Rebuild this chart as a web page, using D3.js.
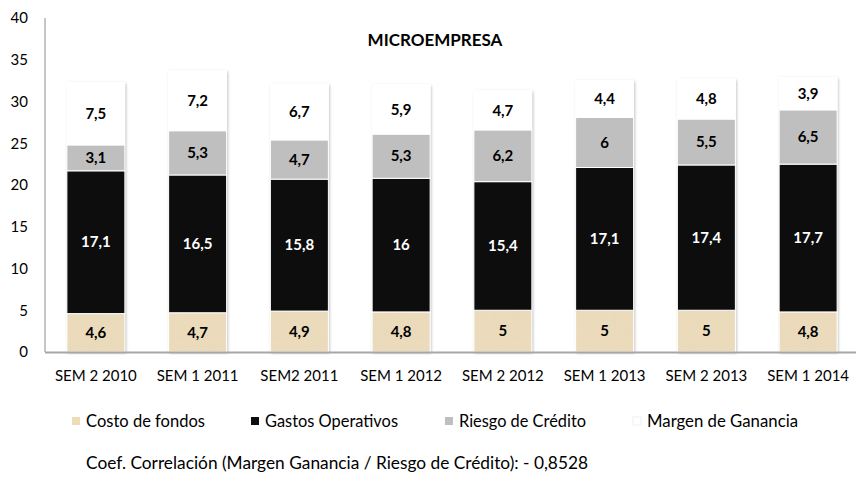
<!DOCTYPE html>
<html>
<head>
<meta charset="utf-8">
<script src="https://cdn.jsdelivr.net/npm/d3@7"></script>
<style>
  body { margin: 0; background: #fff; }
  svg text { font-family: Lato, "Open Sans", sans-serif; }
</style>
</head>
<body>
<div id="chart"></div>
<script>
const periodos = ["SEM 2 2010", "SEM 1 2011", "SEM2 2011", "SEM 1 2012", "SEM 2 2012", "SEM 1 2013", "SEM 2 2013", "SEM 1 2014"];
const costoFondos = [4.6, 4.7, 4.9, 4.8, 5, 5, 5, 4.8];
const gastosOperativos = [17.1, 16.5, 15.8, 16, 15.4, 17.1, 17.4, 17.7];
const riesgoCredito = [3.1, 5.3, 4.7, 5.3, 6.2, 6, 5.5, 6.5];
const margenGanancia = [7.5, 7.2, 6.7, 5.9, 4.7, 4.4, 4.8, 3.9];
const yTicks = [0, 5, 10, 15, 20, 25, 30, 35, 40];
const serieNombres = ["Costo de fondos", "Gastos Operativos", "Riesgo de Crédito", "Margen de Ganancia"];

const W = 856, H = 482;
const svg = d3.select("#chart").append("svg").attr("width", W).attr("height", H);
const defs = svg.append("defs");

// textura tipo papel para costo de fondos
const noise = defs.append("filter").attr("id", "papel").attr("x", 0).attr("y", 0).attr("width", 1).attr("height", 1);
noise.append("feTurbulence").attr("type", "fractalNoise").attr("baseFrequency", 0.09).attr("numOctaves", 3).attr("seed", 4).attr("result", "n");
noise.append("feColorMatrix").attr("in", "n").attr("type", "matrix")
  .attr("values", "0 0 0 0 0.78  0 0 0 0 0.68  0 0 0 0 0.50  0 0 0 -1.1 0.75");
const pat = defs.append("pattern").attr("id", "tan").attr("patternUnits", "userSpaceOnUse").attr("width", 120).attr("height", 120);
pat.append("rect").attr("width", 120).attr("height", 120).attr("fill", "#ebdbbb");
pat.append("rect").attr("width", 120).attr("height", 120).attr("filter", "url(#papel)").attr("opacity", 0.6);

const sombra = defs.append("filter").attr("id", "sombra").attr("x", "-20%").attr("y", "-10%").attr("width", "140%").attr("height", "120%");
sombra.append("feDropShadow").attr("dx", 1).attr("dy", 1).attr("stdDeviation", 1.5).attr("flood-color", "#000").attr("flood-opacity", 0.3);

const colores = ["url(#tan)", "#0d0d0d", "#bfbfbf", "#ffffff"];
const legendColores = ["#ecdcb8", "#0d0d0d", "#bfbfbf", "#ffffff"];
const textoColores = ["#000", "#fff", "#000", "#000"];

const x = d3.scaleBand().domain(periodos).range([45, 859]).paddingInner(0.43).paddingOuter(0.215);
const y = d3.scaleLinear().domain([0, 40]).range([352, 18]);

const rows = periodos.map((p, i) => ({
  periodo: p, costo: costoFondos[i], gastos: gastosOperativos[i], riesgo: riesgoCredito[i], margen: margenGanancia[i]
}));
const keys = ["costo", "gastos", "riesgo", "margen"];
const series = d3.stack().keys(keys)(rows);

// eje y
svg.append("line").attr("x1", 45).attr("x2", 45).attr("y1", y(40)).attr("y2", y(0))
  .attr("stroke", "#8c8c8c").attr("stroke-width", 1);
svg.append("g").selectAll("text").data(yTicks).join("text")
  .attr("x", 28).attr("y", d => y(d)).attr("dy", "0.35em")
  .attr("text-anchor", "end").attr("font-size", 15).attr("fill", "#000")
  .text(d => d);

// barras
const barras = svg.append("g");
barras.selectAll("rect.sombra").data(rows).join("rect")
  .attr("x", d => x(d.periodo)).attr("width", x.bandwidth())
  .attr("y", d => y(d.costo + d.gastos + d.riesgo + d.margen))
  .attr("height", d => y(0) - y(d.costo + d.gastos + d.riesgo + d.margen))
  .attr("fill", "#fff").attr("filter", "url(#sombra)");

series.forEach((s, k) => {
  barras.append("g").selectAll("rect").data(s).join("rect")
    .attr("x", d => x(d.data.periodo)).attr("width", x.bandwidth())
    .attr("y", d => y(d[1])).attr("height", d => y(d[0]) - y(d[1]))
    .attr("fill", colores[k]).attr("stroke", "#fff").attr("stroke-width", 1);
});

series.forEach((s, k) => {
  barras.append("g").selectAll("text").data(s).join("text")
    .attr("x", d => x(d.data.periodo) + x.bandwidth() / 2)
    .attr("y", d => (y(d[0]) + y(d[1])) / 2).attr("dy", "0.35em")
    .attr("text-anchor", "middle").attr("font-size", 15).attr("font-weight", "bold")
    .attr("fill", textoColores[k])
    .text(d => String(d.data[keys[k]]).replace(".", ","));
});

// linea base
svg.append("line").attr("x1", 45).attr("x2", 856).attr("y1", y(0) + 0.5).attr("y2", y(0) + 0.5)
  .attr("stroke", "#a6a6a6").attr("stroke-width", 2);

// etiquetas x
svg.append("g").selectAll("text").data(periodos).join("text")
  .attr("x", d => x(d) + x.bandwidth() / 2).attr("y", 376).attr("dy", "0.35em")
  .attr("text-anchor", "middle").attr("font-size", 15).attr("fill", "#000")
  .text(d => d);

// titulo
svg.append("text").attr("x", 435).attr("y", 40).attr("dy", "0.35em")
  .attr("text-anchor", "middle").attr("font-size", 17).attr("font-weight", "bold")
  .text("MICROEMPRESA");

// leyenda
const legX = [72, 251, 445, 633];
const legLargo = [119, 133, 127, 151];
const leg = svg.append("g").selectAll("g").data(serieNombres).join("g")
  .attr("transform", (d, i) => `translate(${legX[i]},421)`);
leg.append("rect").attr("x", 0).attr("y", -4).attr("width", 8).attr("height", 8)
  .attr("fill", (d, i) => legendColores[i])
  .attr("stroke", (d, i) => i === 3 ? "#f0f0f0" : "none");
leg.append("text").attr("x", 14).attr("dy", "0.35em").attr("font-size", 17.5)
  .attr("textLength", (d, i) => legLargo[i]).attr("lengthAdjust", "spacingAndGlyphs")
  .text(d => d);

svg.append("text").attr("x", 86).attr("y", 463).attr("dy", "0.35em").attr("font-size", 17.5)
  .attr("textLength", 502).attr("lengthAdjust", "spacingAndGlyphs")
  .text("Coef. Correlación (Margen Ganancia  / Riesgo de Crédito): - 0,8528");
</script>
</body>
</html>
